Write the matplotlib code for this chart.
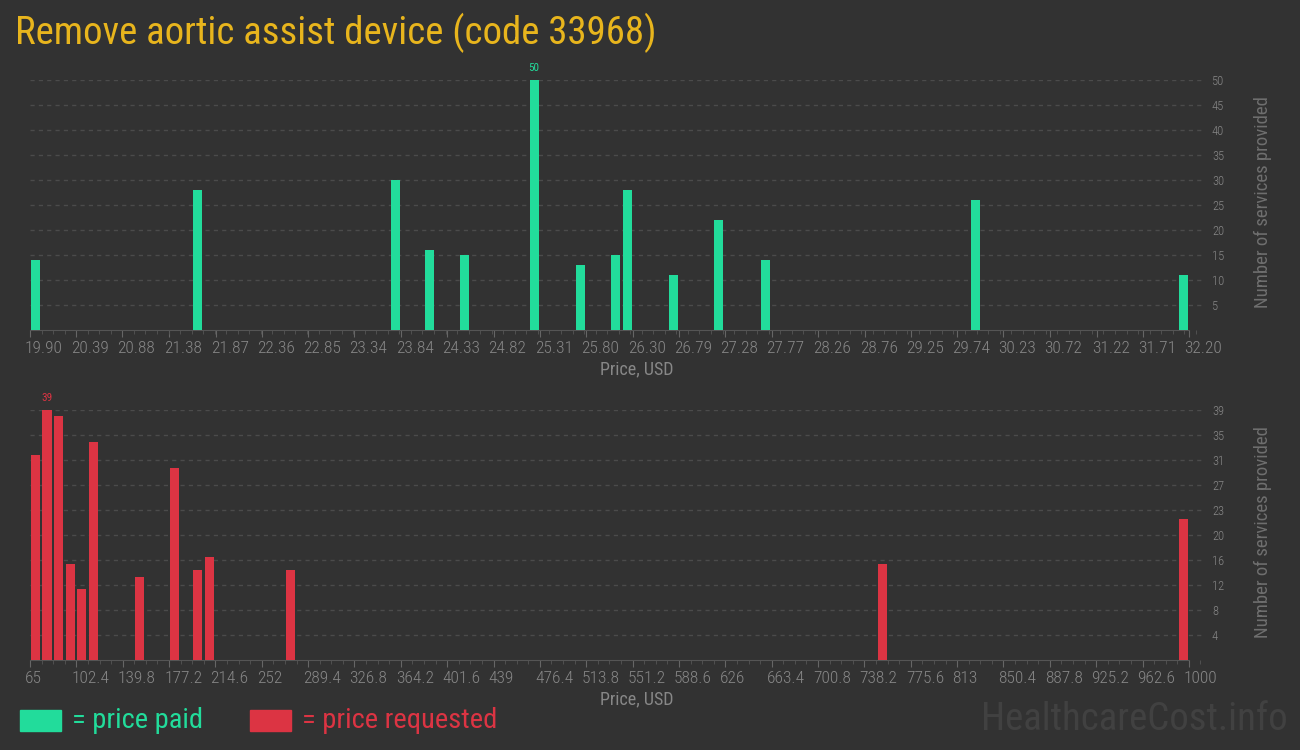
import matplotlib.pyplot as plt
from matplotlib.transforms import ScaledTranslation
from matplotlib.ticker import AutoMinorLocator

# price paid (top chart)
paid_price = [19.96, 21.68, 23.78, 24.14, 24.51, 25.25, 25.74, 26.11, 26.24,
              26.73, 27.21, 27.71, 29.93, 32.14]
paid_count = [14, 28, 30, 16, 15, 50, 13, 15, 28, 11, 22, 14, 26, 11]
paid_ticks = ['19.90', '20.39', '20.88', '21.38', '21.87', '22.36', '22.85',
              '23.34', '23.84', '24.33', '24.82', '25.31', '25.80', '26.30',
              '26.79', '27.28', '27.77', '28.26', '28.76', '29.25', '29.74',
              '30.23', '30.72', '31.22', '31.71', '32.20']
paid_yticks = [5, 10, 15, 20, 25, 30, 35, 40, 45, 50]

# price requested (bottom chart)
req_price = [69.4, 78.7, 88.0, 97.3, 106.5, 116.2, 153.3, 181.6, 200.1,
             209.8, 275.2, 752.7, 995.5]
req_count = [32, 39, 38, 15, 11, 34, 13, 30, 14, 16, 14, 15, 22]
req_ticks = ['65', '102.4', '139.8', '177.2', '214.6', '252', '289.4', '326.8',
             '364.2', '401.6', '439', '476.4', '513.8', '551.2', '588.6', '626',
             '663.4', '700.8', '738.2', '775.6', '813', '850.4', '887.8',
             '925.2', '962.6', '1000']
req_ytick_pos = [3.9, 7.8, 11.7, 15.6, 19.5, 23.4, 27.3, 31.2, 35.1, 39.0]
req_ytick_lab = ['4', '8', '12', '16', '20', '23', '27', '31', '35', '39']

BG = '#323232'
GREEN = '#22dc9b'
RED = '#dc3443'
GOLD = '#e8b51d'
GREY = '#878787'

plt.rcParams['font.family'] = ['Roboto Condensed', 'Liberation Sans Narrow', 'DejaVu Sans']

fig = plt.figure(figsize=(13, 7.5), dpi=100, facecolor=BG)


def draw_panel(rect, prices, counts, ticks, ytick_pos, ytick_lab, ymax,
               width, right_pad, color):
    ax = fig.add_axes(rect, facecolor=BG)
    lo, hi = float(ticks[0]), float(ticks[-1])
    ax.bar(prices, counts, width=width, color=color, zorder=3)
    ax.set_xlim(lo, hi + right_pad)
    ax.set_ylim(0, ymax)
    for s in ['top', 'left', 'right']:
        ax.spines[s].set_visible(False)
    ax.spines['bottom'].set_color('#555555')
    ax.spines['bottom'].set_bounds(lo, hi)
    ax.set_xticks([float(t) for t in ticks])
    ax.set_xticklabels(ticks, fontweight='light')
    ax.xaxis.set_minor_locator(AutoMinorLocator(4))
    ax.tick_params(axis='x', which='major', length=5, color='#666666',
                   labelcolor=GREY, labelsize=12.5, pad=3)
    ax.tick_params(axis='x', which='minor', length=3, color='#555555')
    shift = ScaledTranslation(-0.05, 0, fig.dpi_scale_trans)
    for lab in ax.get_xticklabels():
        lab.set_horizontalalignment('left')
        lab.set_transform(lab.get_transform() + shift)
    ax.yaxis.tick_right()
    ax.set_yticks(ytick_pos)
    ax.set_yticklabels(ytick_lab, fontweight='light')
    ax.tick_params(axis='y', length=0, labelcolor=GREY, labelsize=9, pad=5)
    ax.grid(axis='y', color='#4b4b4b', linestyle=(0, (3, 3)), linewidth=1, zorder=0)
    ax.set_xlabel('Price, USD', color=GREY, fontsize=13, labelpad=4)
    ax.xaxis.set_label_coords((637 - 30) / 1175, -0.12)
    i = counts.index(max(counts))
    ax.annotate(str(max(counts)), (prices[i], counts[i]), xytext=(0, 5),
                textcoords='offset points', ha='center', va='bottom',
                color=color, fontsize=8, annotation_clip=False)
    return ax


ax1 = draw_panel([30 / 1300, 1 - 330 / 750, 1175 / 1300, 250 / 750],
                 paid_price, paid_count, paid_ticks, paid_yticks,
                 [str(v) for v in paid_yticks], 50, 0.095, 0.17, GREEN)
ax2 = draw_panel([30 / 1300, 1 - 660 / 750, 1175 / 1300, 250 / 750],
                 req_price, req_count, req_ticks, req_ytick_pos, req_ytick_lab,
                 39, 7.3, 13.0, RED)

fig.text(1263 / 1300, 1 - 202 / 750, 'Number of services provided', rotation=90,
         ha='center', va='center', color='#6f6f6f', fontsize=13.5)
fig.text(1263 / 1300, 1 - 532 / 750, 'Number of services provided', rotation=90,
         ha='center', va='center', color='#6f6f6f', fontsize=13.5)

fig.text(15 / 1300, 1 - 33 / 750, 'Remove aortic assist device (code 33968)',
         color=GOLD, fontsize=28, ha='left', va='center')

# legend
fig.patches.append(plt.Rectangle((20 / 1300, 1 - 731 / 750), 41 / 1300, 21 / 750,
                                 transform=fig.transFigure, color=GREEN))
fig.text(72 / 1300, 1 - 720 / 750, '= price paid', color=GREEN, fontsize=20.5,
         ha='left', va='center')
fig.patches.append(plt.Rectangle((250 / 1300, 1 - 731 / 750), 41 / 1300, 21 / 750,
                                 transform=fig.transFigure, color=RED))
fig.text(302 / 1300, 1 - 720 / 750, '= price requested', color=RED, fontsize=20.5,
         ha='left', va='center')

fig.text(1288 / 1300, 1 - 720 / 750, 'HealthcareCost.info', color='#414141',
         fontsize=28, ha='right', va='center')

fig.savefig('out.png', dpi=100, facecolor=BG)
